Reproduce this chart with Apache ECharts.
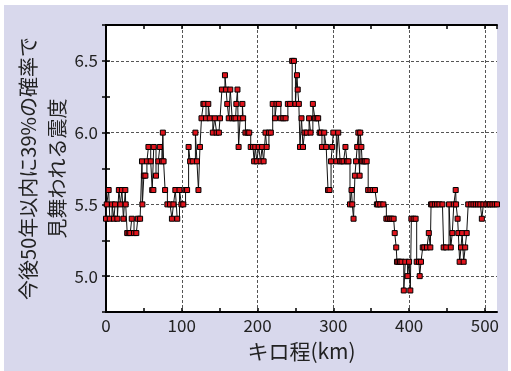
<!DOCTYPE html>
<html>
<head>
<meta charset="utf-8">
<script src="https://cdn.jsdelivr.net/npm/echarts@6/dist/echarts.min.js"></script>
<style>
html,body{margin:0;padding:0;background:#fff;}
#main{width:511px;height:371px;}
</style>
</head>
<body>
<div id="main"></div>
<script>
// キロ程(km)
var km = [0,1,3.5,5,8,10.5,12,15,17,19,21,23,25.5,26,28,30,32,34,37,40,42,45,47.5,48,50,52,54,56,59,61,62.5,63,66,69,71,74,75,76,78,81,84.5,87,89,91.5,94,97,99.5,102,105,107,109,111,114.5,118,120,122,124,126,128.5,130,132,135,137,141,143.5,146,149,150.5,153,157,158.5,160,162,164,166.5,169,171,172,173.5,175,177,180,181,184,187,189,191,194,195.5,197,199,201.5,204,206,208,210.5,212,215,217.5,220,223,225,228,230.7,234,237,240,243,245.7,248,250,252,253,254.5,256,258,260,262,265,268,270,273,275.6,278,280,282,283.6,285,288,290.6,293,295,297,298.5,300,304,306.5,309,311,313.5,316,318,320,322,324,325,326.7,328.5,330,331.5,333,334.7,335.5,337,338,340,342,344,346,349,352,355,357.5,359,362,366,370,372.5,375,377,379.6,381,383,384,386,388,390,393,395,398,400,401.6,403,406,408.6,410,413,414,415.7,418,420,423.6,426,428,429,430.6,434,437,440,444,445.6,449,452.7,455,457,459,461.5,462,464,465,466.7,468.5,470,472,474,476,478,482,485,488,491,494,496,498,502,505,507,510,513,516];
// 震度
var shindo = [5.4,5.5,5.6,5.4,5.5,5.4,5.5,5.4,5.6,5.5,5.6,5.4,5.6,5.5,5.3,5.3,5.3,5.4,5.3,5.3,5.4,5.4,5.8,5.5,5.7,5.7,5.8,5.9,5.8,5.6,5.6,5.9,5.7,5.8,5.9,5.8,6.0,5.8,5.6,5.5,5.5,5.4,5.5,5.6,5.4,5.6,5.5,5.5,5.6,5.6,5.9,5.8,5.8,6.0,5.8,5.6,5.9,6.1,6.2,6.2,6.1,6.2,6.1,6.0,6.1,6.0,6.0,6.1,6.3,6.4,6.3,6.2,6.1,6.3,6.1,6.1,6.1,6.2,6.3,5.9,6.1,6.2,6.1,6.0,6.0,6.0,5.9,5.9,5.8,5.9,5.8,5.9,5.8,5.9,5.8,6.0,5.9,6.0,6.0,6.2,6.1,6.2,6.2,6.1,6.1,6.1,6.2,6.2,6.5,6.5,6.2,6.4,6.3,6.2,5.9,6.1,5.9,6.0,6.0,6.1,6.0,6.2,6.1,6.1,6.1,6.0,6.0,5.9,6.0,5.9,5.6,5.6,5.8,5.9,6.0,5.8,6.0,5.8,5.8,5.8,5.9,5.8,5.8,5.5,5.6,5.5,5.4,5.7,5.8,5.9,6.0,5.7,6.0,5.9,5.8,5.8,5.8,5.8,5.6,5.6,5.6,5.6,5.5,5.5,5.5,5.5,5.4,5.4,5.4,5.4,5.4,5.3,5.2,5.1,5.1,5.1,5.1,4.9,5.1,5.0,5.1,4.9,5.4,5.4,5.4,5.1,5.1,5.0,5.1,5.2,5.2,5.2,5.3,5.2,5.5,5.5,5.5,5.5,5.5,5.5,5.2,5.2,5.5,5.2,5.3,5.5,5.6,5.5,5.4,5.3,5.1,5.2,5.3,5.1,5.2,5.3,5.5,5.5,5.5,5.5,5.5,5.5,5.4,5.5,5.5,5.5,5.5,5.5,5.5,5.5];

var yMin = 4.75, yMax = 6.75, yStep = 0.25;
var xMin = 0, xMax = 516, xStep = 50;

var seriesData = km.map(function (k, i) { return [k, shindo[i]]; });

var txt = '#222';
var font = 'Noto Sans CJK JP';

var chart = echarts.init(document.getElementById('main'));
var option = {
    backgroundColor: '#fff',
    animation: false,
    textStyle: { fontFamily: font },
    graphic: [{
        type: 'rect',
        z: -10,
        silent: true,
        shape: { x: 4, y: 5, width: 504, height: 366 },
        style: { fill: '#d8d8ec' }
    }],
    grid: {
        left: 106, right: 14, top: 25, bottom: 59,
        containLabel: false, outerBoundsMode: 'none',
        show: true, backgroundColor: '#fff', borderWidth: 0
    },
    xAxis: [{
        type: 'value',
        min: xMin, max: xMax, interval: xStep,
        name: 'キロ程(km)',
        nameLocation: 'middle',
        nameGap: 29,
        nameMoveOverlap: false,
        nameTextStyle: { color: txt, fontSize: 21, fontFamily: font },
        axisLine: { lineStyle: { color: '#000', width: 2 } },
        axisTick: { inside: true, length: 4, lineStyle: { color: '#000', width: 1.5 } },
        axisLabel: {
            color: txt, fontSize: 17, margin: 5, fontFamily: font,
            showMaxLabel: false,
            formatter: function (v) { return v % 100 === 0 ? String(v) : ''; }
        },
        splitLine: { show: true, lineStyle: { color: ['#555', 'transparent'], type: [3, 2], width: 1 } }
    }, {
        type: 'value', position: 'top',
        min: xMin, max: xMax, interval: xStep,
        axisLine: { lineStyle: { color: '#000', width: 2 } },
        axisTick: { inside: true, length: 4, lineStyle: { color: '#000', width: 1.5 } },
        axisLabel: { show: false },
        splitLine: { show: false }
    }],
    yAxis: [{
        type: 'value',
        min: yMin, max: yMax, interval: yStep,
        name: '今後50年以内に39%の確率で\n見舞われる震度',
        nameLocation: 'middle',
        nameRotate: 90,
        nameGap: 34,
        nameMoveOverlap: false,
        nameTextStyle: { color: txt, fontSize: 20, lineHeight: 29, fontFamily: font },
        axisLine: { show: true, lineStyle: { color: '#000', width: 2 } },
        axisTick: { inside: true, length: 4, lineStyle: { color: '#000', width: 1.5 } },
        axisLabel: {
            color: txt, fontSize: 17, margin: 8, fontFamily: font,
            formatter: function (v) { return (v * 2) % 1 === 0 ? v.toFixed(1) : ''; }
        },
        splitLine: { show: true, lineStyle: { color: ['transparent', '#555'], type: [3, 2], width: 1 } }
    }, {
        type: 'value', position: 'right',
        min: yMin, max: yMax, interval: yStep,
        axisLine: { show: true, lineStyle: { color: '#000', width: 2 } },
        axisTick: { inside: true, length: 4, lineStyle: { color: '#000', width: 1.5 } },
        axisLabel: { show: false },
        splitLine: { show: false }
    }],
    series: [{
        type: 'line',
        step: 'end',
        data: seriesData,
        symbol: 'rect',
        symbolSize: 5,
        showAllSymbol: true,
        lineStyle: { color: '#111', width: 1 },
        itemStyle: { color: '#e0141c', borderColor: '#000', borderWidth: 1 }
    }]
};
chart.setOption(option);
</script>
</body>
</html>
